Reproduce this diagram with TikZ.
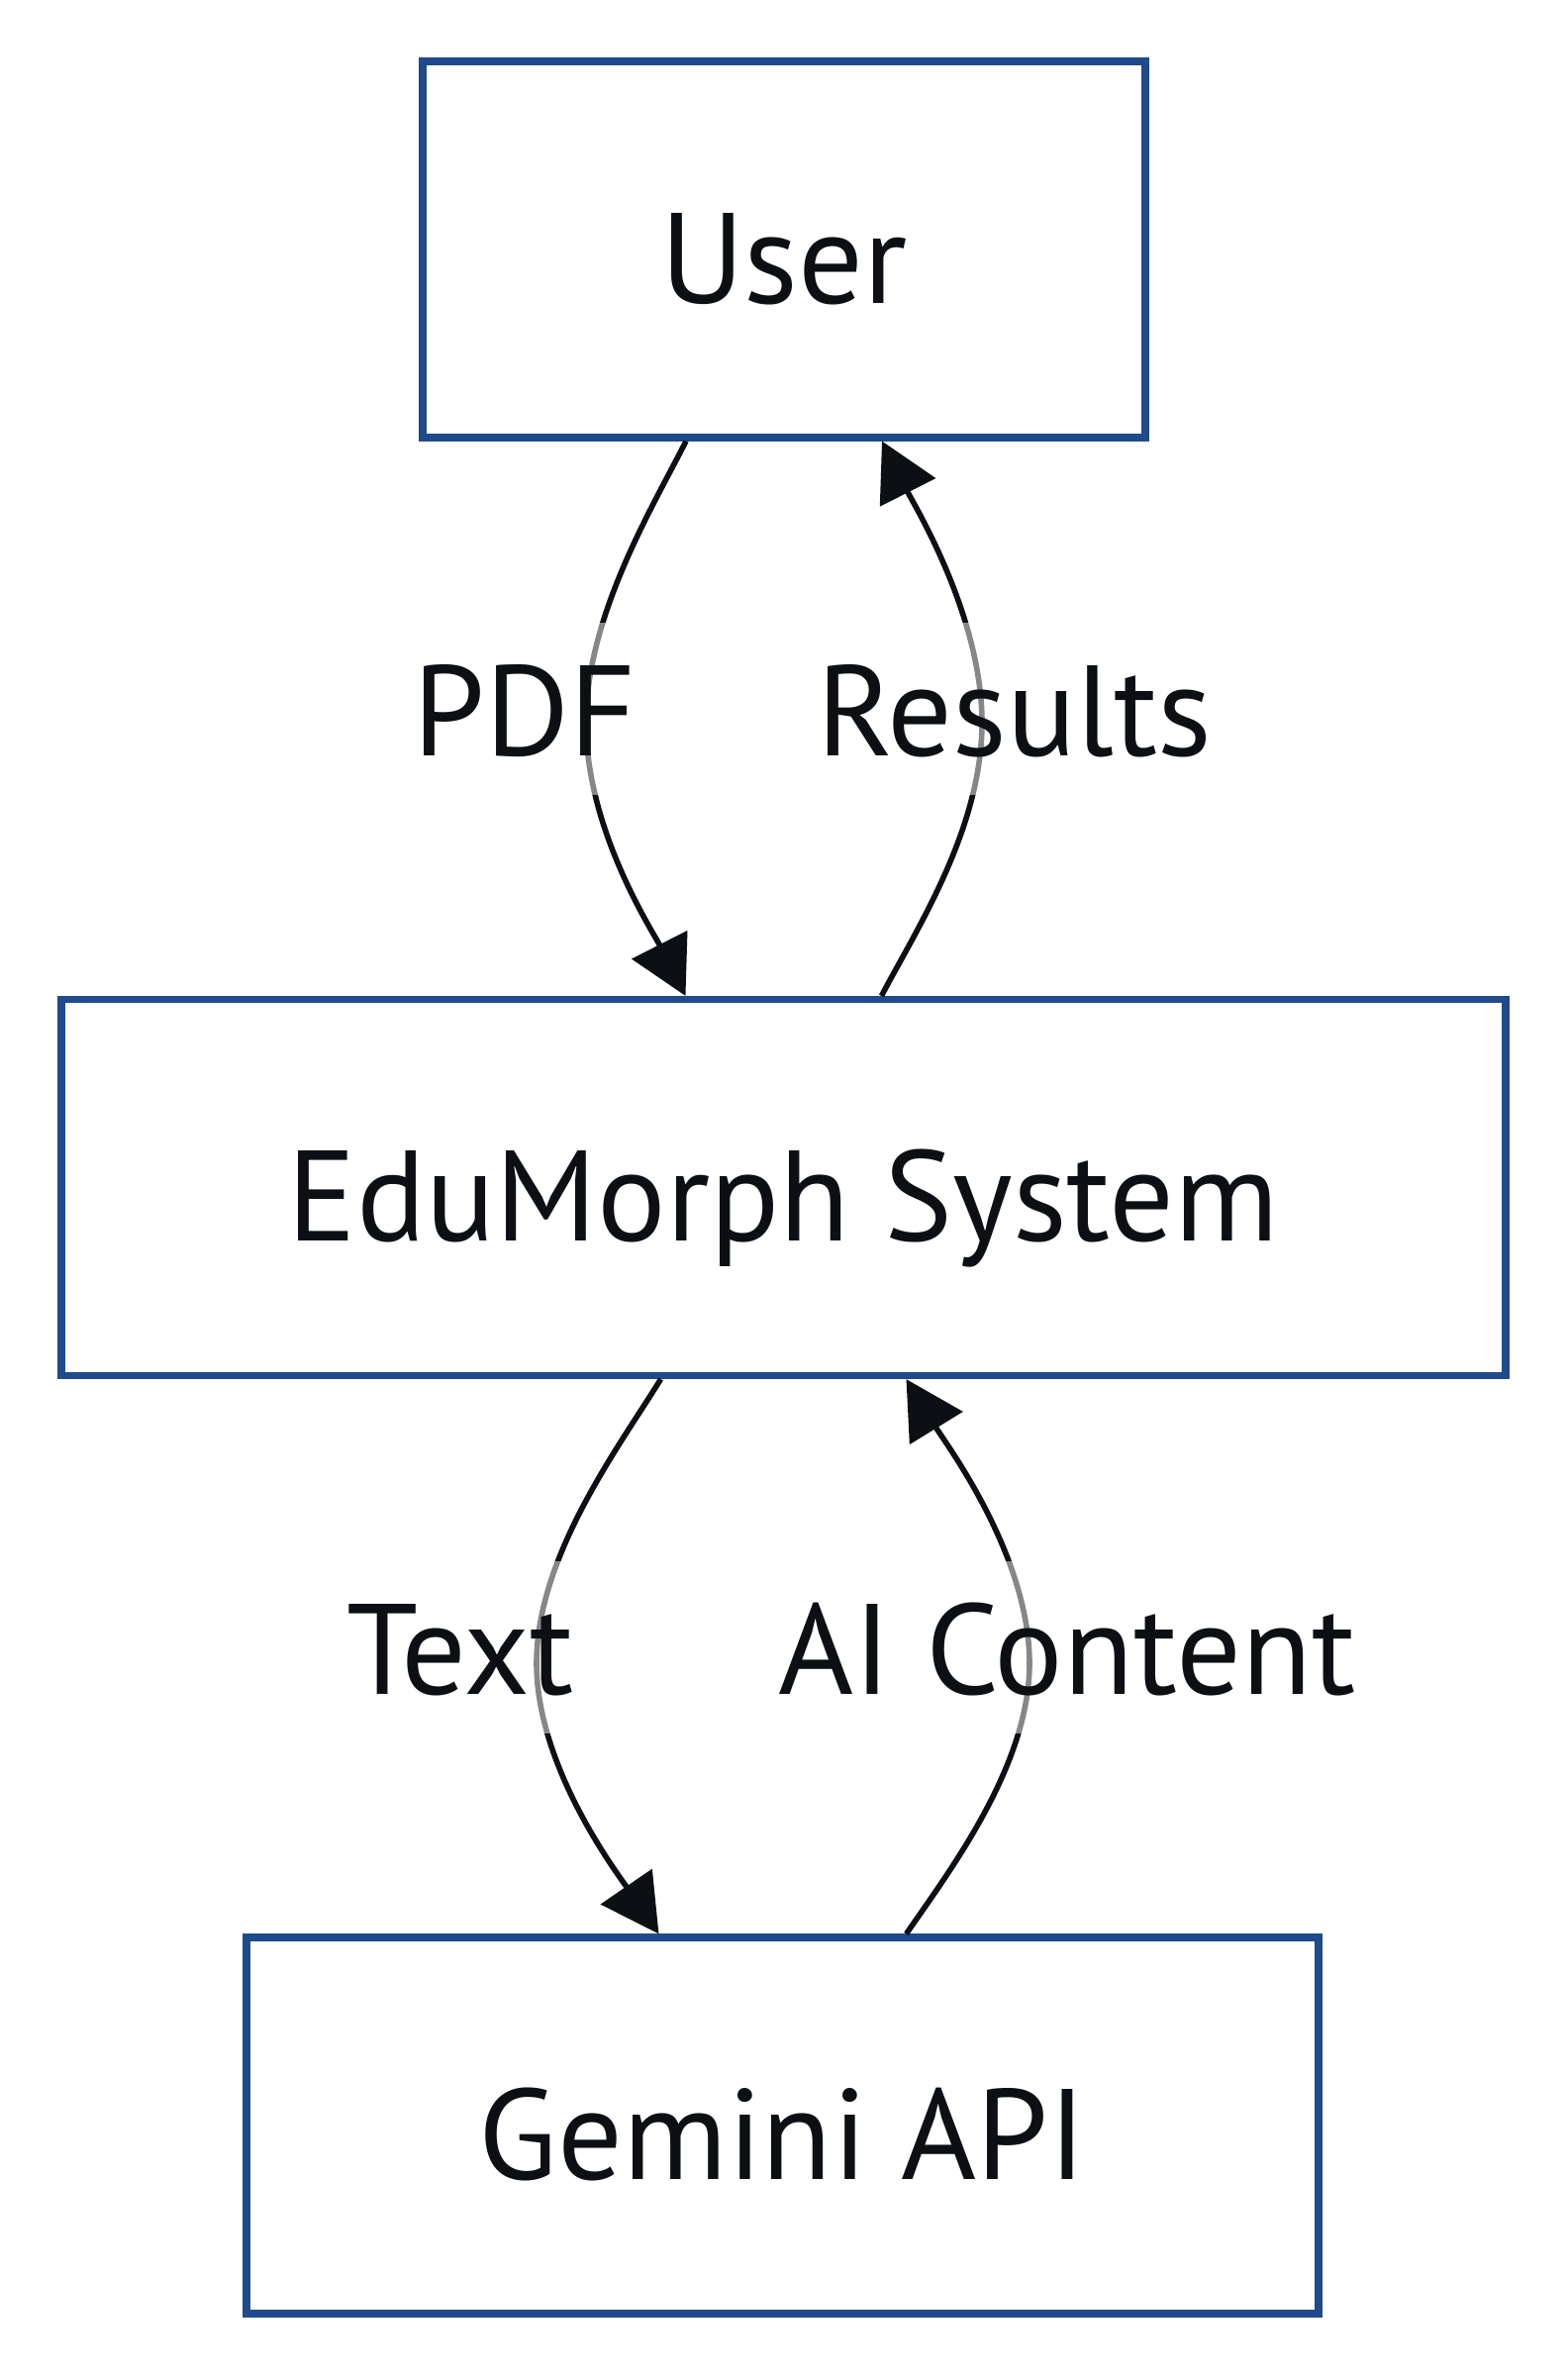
\documentclass[tikz,border=0pt]{standalone}
\usepackage{fontspec}
\setmainfont{PT Sans}
\usetikzlibrary{arrows.meta,calc}
\definecolor{boxblue}{RGB}{31,74,140}
\definecolor{ink}{RGB}{12,16,20}
\begin{document}
\begin{tikzpicture}[x=0.5pt,y=-0.5pt,
  box/.style={draw=boxblue,line width=3.6pt,fill=white,inner sep=0pt,text=ink,
    font=\fontsize{65}{72}\selectfont,text height=54pt,text depth=0pt,minimum height=190pt},
  elabel/.style={fill=white,fill opacity=0.5,text opacity=1,text=ink,inner sep=0pt,
    font=\fontsize{65}{72}\selectfont,text height=67pt,text depth=20pt},
  edge/.style={draw=ink,line width=2.8pt,-{Triangle[length=29pt,width=31pt]}}]
\fill[white] (0,0) rectangle (1584,2400);
\useasboundingbox (0,0) rectangle (1584,2400);
\node[box,minimum width=365pt] (user) at (792,252) {User};
\node[box,minimum width=729.5pt] (edu) at (791.5,1199.5) {EduMorph System};
\node[box,minimum width=541.5pt] (gem) at (790.5,2147) {Gemini API};
% edges
\draw[edge] ($(user.south)+(-99,0)$) .. controls (660,511) and (592,622) .. (592,730)
  .. controls (592,838) and (659,940) .. ($(edu.north)+(-99,0)$);
\draw[edge] ($(edu.north)+(99,0)$) .. controls (925,940) and (992,838) .. (992,730)
  .. controls (992,622) and (924,511) .. ($(user.south)+(99,0)$);
\draw[edge] ($(edu.south)+(-124,0)$) .. controls (627,1459) and (542,1571) .. (542,1680)
  .. controls (542,1784) and (622,1890) .. ($(gem.north)+(-125,0)$);
\draw[edge] ($(gem.north)+(125,0)$) .. controls (959,1890) and (1040,1784) .. (1040,1680)
  .. controls (1040,1571) and (956,1459) .. ($(edu.south)+(124,0)$);
% labels
\node[elabel] (lpdf) at (530,716) {PDF};
\node[elabel] (lres) at (1025,716) {Results};
\node[elabel] (ltext) at (465,1664) {Text};
\node[elabel] (lai) at (1078,1664) {AI Content};
\end{tikzpicture}
\end{document}
